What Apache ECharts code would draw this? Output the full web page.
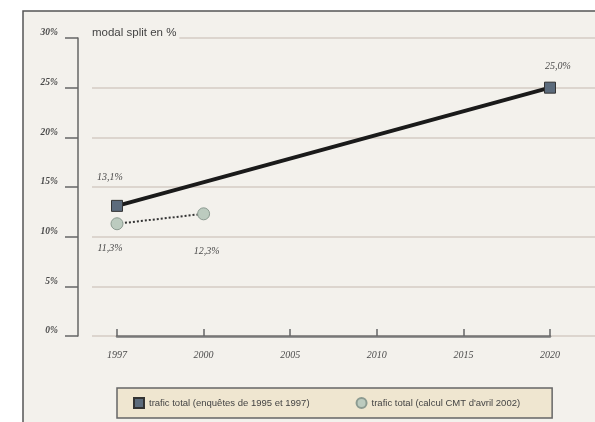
<!DOCTYPE html>
<html>
<head>
<meta charset="utf-8">
<script src="https://cdn.jsdelivr.net/npm/echarts@6/dist/echarts.min.js"></script>
<style>
    html, body { margin: 0; padding: 0; background: #fff; }
    #chart { width: 595px; height: 422px; }
</style>
</head>
<body>
<div id="chart"></div>
<script>
    // données
    var years = ['1997', '2000', '2005', '2010', '2015', '2020']
    var surveyTraffic = [13.1, null, null, null, null, 25.0]   // trafic total (enquêtes)
    var cmtTraffic = [11.3, 12.3, null, null, null, null]      // trafic total (calcul CMT)
    var seriesNames = ['trafic total (enquêtes de 1995 et 1997)', 'trafic total (calcul CMT d\'avril 2002)']
    var yMin = 0, yMax = 30, yStep = 5

    var labelFont = {
        fontFamily: 'Liberation Serif',
        fontStyle: 'italic',
        fontSize: 10,
        color: '#4a4a4a'
    }

    function pct(v) {
        return v.toFixed(1).replace('.', ',') + '%'
    }

    var chart = echarts.init(document.getElementById('chart'))

    var option = {
        backgroundColor: '#fff',
        animation: false,
        graphic: [
            {   // cadre
                type: 'rect', z: -10,
                shape: { x: 23, y: 11, width: 590, height: 420 },
                style: { fill: '#f3f1ec', stroke: '#555', lineWidth: 1.5 }
            },
            {
                type: 'text', z: 10,
                left: 92, top: 26,
                style: {
                    text: 'modal split en %',
                    fontFamily: 'Liberation Sans, sans-serif',
                    fontSize: 11.5, fill: '#444',
                    backgroundColor: '#f3f1ec', padding: [1, 3, 1, 0]
                }
            }
        ],
        legend: {
            left: 117, top: 388,
            padding: [9, 32, 9, 16],
            itemGap: 46,
            itemWidth: 10, itemHeight: 10,
            backgroundColor: '#efe6d0',
            borderColor: '#666', borderWidth: 1.5,
            textStyle: {
                fontFamily: 'Liberation Sans, sans-serif',
                fontSize: 9.5, color: '#444'
            },
            data: [
                { name: seriesNames[0], icon: 'rect' },
                { name: seriesNames[1], icon: 'circle' }
            ]
        },
        grid: [
            { left: 117, right: 45, top: 38, bottom: 86 },
            { left: 92, right: 0, top: 38, bottom: 86 }   // lignes de fond
        ],
        xAxis: [
            {
                type: 'category', gridIndex: 0,
                data: years,
                boundaryGap: false,
                axisLine: { lineStyle: { color: '#777', width: 2.5 } },
                axisTick: { inside: true, length: 7, lineStyle: { color: '#666', width: 1.5 } },
                axisLabel: Object.assign({ margin: 14 }, labelFont),
                splitLine: { show: false }
            },
            {
                type: 'value', gridIndex: 1, min: 0, max: 1,
                show: false
            }
        ],
        yAxis: [
            {
                type: 'value', gridIndex: 0,
                min: yMin, max: yMax, interval: yStep,
                offset: 39,
                axisLine: { show: true, lineStyle: { color: '#666', width: 1.5 } },
                axisTick: { show: true, length: 13, lineStyle: { color: '#666', width: 1.5 } },
                axisLabel: Object.assign({}, labelFont, {
                    margin: 20,
                    verticalAlign: 'bottom',
                    fontWeight: 'bold',
                    fontSize: 9.5,
                    formatter: '{value}%'
                }),
                splitLine: { show: false }
            },
            {
                type: 'value', gridIndex: 1,
                min: yMin, max: yMax, interval: yStep,
                axisLine: { show: false },
                axisTick: { show: false },
                axisLabel: { show: false },
                splitLine: { show: true, lineStyle: { color: '#dcd5ce', width: 2 } }
            }
        ],
        series: [
            {
                name: seriesNames[0],
                type: 'line',
                data: surveyTraffic.map(function (v, i) {
                    if (v === null) return null
                    var lab = i === 0
                        ? { position: 'top', distance: 17, offset: [-7, 0] }
                        : { position: 'top', distance: 10, offset: [8, 0] }
                    return { value: v, label: lab }
                }),
                connectNulls: true,
                symbol: 'rect',
                symbolSize: 11,
                lineStyle: { color: '#1a1a1a', width: 4 },
                itemStyle: { color: '#5c6b7c', borderColor: '#333', borderWidth: 1 },
                label: Object.assign({
                    show: true,
                    formatter: function (p) { return pct(p.value) }
                }, labelFont),
                z: 3
            },
            {
                name: seriesNames[1],
                type: 'line',
                data: cmtTraffic.map(function (v, i) {
                    if (v === null) return null
                    var lab = i === 0
                        ? { position: 'bottom', distance: 13, offset: [-7, 0] }
                        : { position: 'bottom', distance: 26, offset: [3, 0] }
                    return { value: v, label: lab }
                }),
                connectNulls: true,
                symbol: 'circle',
                symbolSize: 12,
                lineStyle: { color: '#333', width: 2, type: 'dotted' },
                itemStyle: { color: '#bccbbf', borderColor: '#8c9b91', borderWidth: 1 },
                label: Object.assign({
                    show: true,
                    formatter: function (p) { return pct(p.value) }
                }, labelFont),
                z: 3
            }
        ]
    }

    chart.setOption(option)
</script>
</body>
</html>
